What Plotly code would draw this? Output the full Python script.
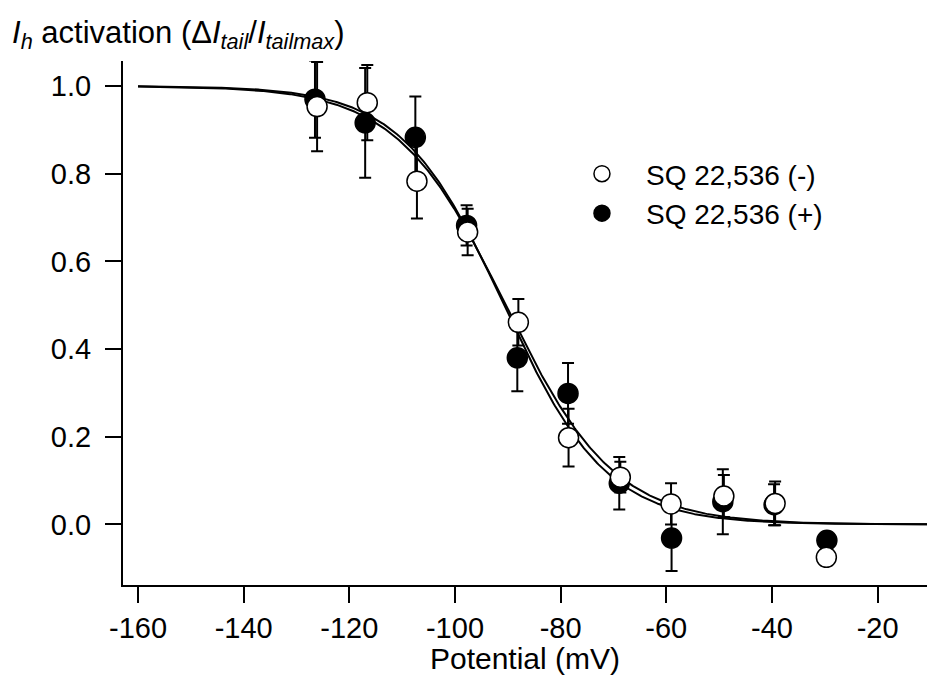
import numpy as np
import plotly.graph_objects as go

# Test potentials (mV) and normalised tail-current activation
v_minus = [-126.1, -116.6, -107.2, -97.6, -88.0, -78.5, -68.7, -59.1, -49.1, -39.4, -29.7]
act_minus = [0.953, 0.962, 0.783, 0.667, 0.461, 0.198, 0.108, 0.047, 0.065, 0.048, -0.075]
err_minus = [0.102, 0.086, 0.085, 0.053, 0.053, 0.066, 0.035, 0.047, 0.048, 0.050, None]

v_plus = [-126.5, -117.0, -107.5, -97.8, -88.2, -78.6, -68.9, -59.0, -49.3, -39.6, -29.6]
act_plus = [0.970, 0.916, 0.883, 0.682, 0.380, 0.299, 0.094, -0.031, 0.052, 0.045, -0.036]
err_plus = [0.088, 0.125, 0.093, 0.046, 0.076, 0.069, 0.060, 0.075, 0.074, 0.047, None]

# Boltzmann fit parameters: (V_half, slope factor k)
fit_minus = (-90.4, 10.3)
fit_plus = (-90.7, 9.7)

x_ticks = [-160, -140, -120, -100, -80, -60, -40, -20]
y_ticks = [0.0, 0.2, 0.4, 0.6, 0.8, 1.0]

FONT = "Liberation Sans, Arial, sans-serif"

v_fit = np.linspace(-160, -10, 600)


def boltzmann(v, v_half, k):
    return 1.0 / (1.0 + np.exp((v - v_half) / k))


fig = go.Figure()

for v_half, k in (fit_minus, fit_plus):
    fig.add_trace(go.Scatter(
        x=v_fit, y=boltzmann(v_fit, v_half, k), mode="lines",
        line=dict(color="black", width=2), showlegend=False, hoverinfo="skip",
    ))

fig.add_trace(go.Scatter(
    x=v_plus, y=act_plus, mode="markers", name="SQ 22,536 (+)", legendrank=2,
    marker=dict(symbol="circle", size=20, color="black", line=dict(color="black", width=1.5)),
    error_y=dict(type="data", array=err_plus, visible=True, color="black", thickness=2, width=6),
))
fig.add_trace(go.Scatter(
    x=v_minus, y=act_minus, mode="markers", name="SQ 22,536 (-)", legendrank=1,
    marker=dict(symbol="circle", size=20, color="white", line=dict(color="black", width=1.5)),
    error_y=dict(type="data", array=err_minus, visible=True, color="black", thickness=2, width=6),
))

fig.update_layout(
    width=927, height=675,
    margin=dict(l=123, r=0, t=61, b=90),
    paper_bgcolor="white", plot_bgcolor="white",
    font=dict(family=FONT, size=28, color="black"),
    title=dict(
        text="<i>I</i><sub><i>h</i></sub> activation (Δ<i>I</i><sub><i>tail</i></sub>/<i>I</i><sub><i>tailmax</i></sub>)",
        x=12 / 927, xref="container", xanchor="left",
        y=1 - 32 / 675, yref="container", yanchor="middle",
        font=dict(family=FONT, size=31, color="black"),
    ),
    legend=dict(
        x=0.541, y=0.832, xanchor="left", yanchor="top",
        font=dict(family=FONT, size=28, color="black"),
        bgcolor="rgba(0,0,0,0)", itemwidth=78, tracegroupgap=0,
    ),
    showlegend=True,
)

fig.update_xaxes(
    range=[-162.84, -10.65], tickvals=x_ticks, ticktext=[str(t) for t in x_ticks],
    showgrid=False, zeroline=False, showline=True, linecolor="black", linewidth=2,
    ticks="outside", ticklen=16, tickwidth=2, tickcolor="black",
    tickfont=dict(family=FONT, size=29),
    title=dict(text="Potential (mV)", font=dict(family=FONT, size=30), standoff=0),
)
fig.update_yaxes(
    range=[-0.138, 1.057], tickvals=y_ticks, tickformat=".1f",
    showgrid=False, zeroline=False, showline=True, linecolor="black", linewidth=2,
    ticks="outside", ticklen=16, tickwidth=2, tickcolor="black",
    tickfont=dict(family=FONT, size=29), ticklabelstandoff=8,
)

fig.write_html("out.html")
